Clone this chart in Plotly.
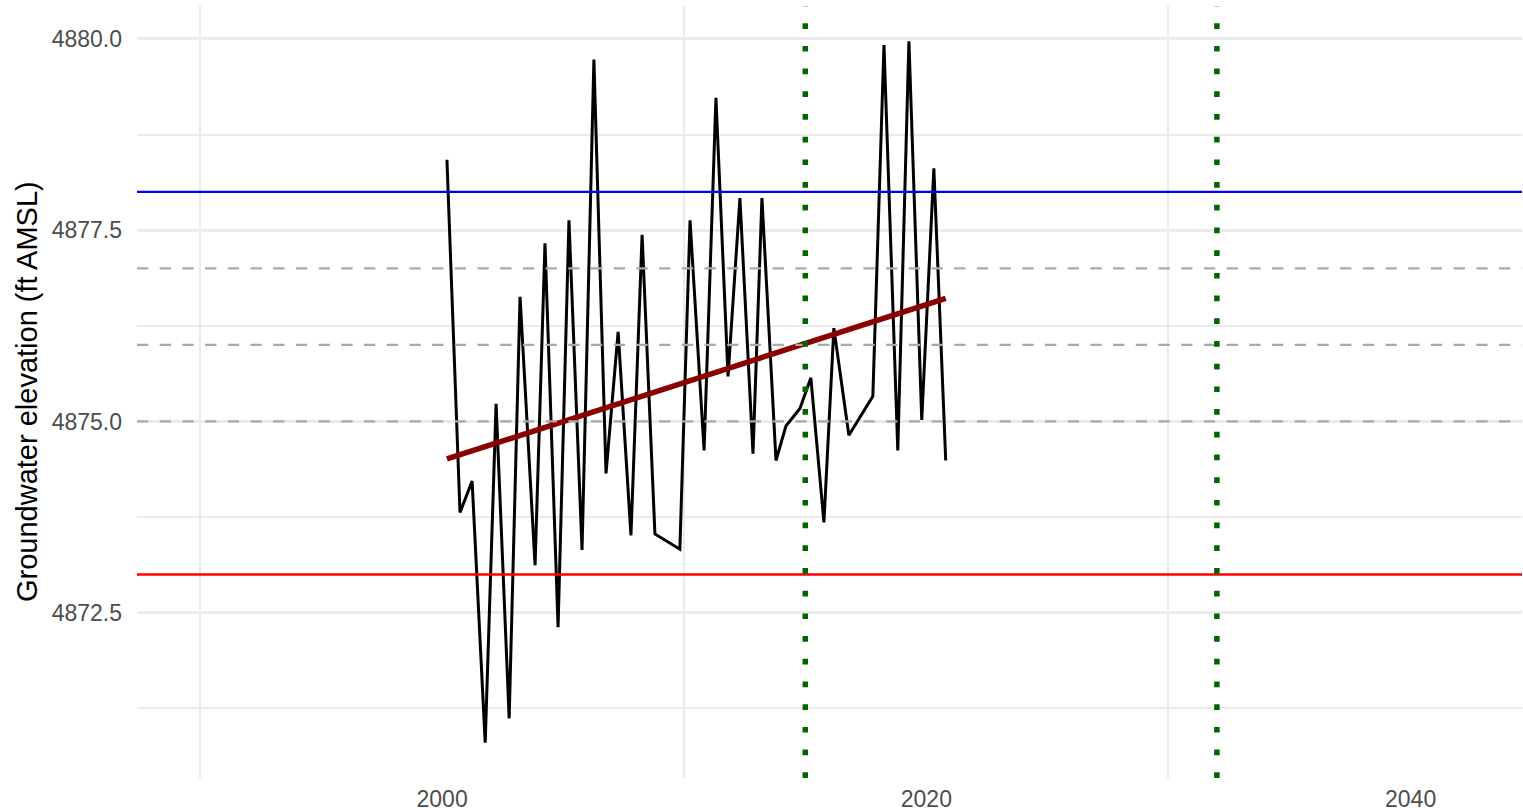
import plotly.graph_objects as go

# Observations (decimal year, groundwater elevation ft AMSL)
obs_year = [2000.2, 2000.74, 2001.24, 2001.78, 2002.23, 2002.77, 2003.22, 2003.84,
            2004.25, 2004.79, 2005.24, 2005.78, 2006.27, 2006.77, 2007.27, 2007.8,
            2008.26, 2008.79, 2009.82, 2010.24, 2010.82, 2011.31, 2011.81, 2012.3,
            2012.84, 2013.21, 2013.79, 2014.2, 2014.78, 2015.23, 2015.77, 2016.18,
            2016.8, 2017.79, 2018.25, 2018.82, 2019.28, 2019.81, 2020.31, 2020.8]
obs_elev = [4878.42, 4873.81, 4874.22, 4870.8, 4875.23, 4871.12, 4876.63, 4873.12,
            4877.33, 4872.31, 4877.63, 4873.32, 4879.73, 4874.32, 4876.17, 4873.51,
            4877.44, 4873.53, 4873.33, 4877.63, 4874.62, 4879.23, 4875.59, 4877.92,
            4874.58, 4877.92, 4874.49, 4874.94, 4875.17, 4875.57, 4873.68, 4876.22,
            4874.82, 4875.33, 4879.92, 4874.62, 4879.97, 4875.02, 4878.31, 4874.49]

# Linear trend endpoints
trend_year = [2000.2, 2020.8]
trend_elev = [4874.51, 4876.61]

# Reference levels
upper_level = 4878.0
lower_level = 4873.0
gray_levels = [4877.0, 4876.0, 4875.0]
milestone_years = [2015, 2032]

x_ticks = [2000, 2020, 2040]
x_minor = [1990, 2010, 2030]
y_ticks = [4872.5, 4875.0, 4877.5, 4880.0]
y_tick_text = ["4872.5", "4875.0", "4877.5", "4880.0"]
y_minor = [4871.25, 4873.75, 4876.25, 4878.75]
x_range = [1987.4, 2044.6]
y_range = [4870.34, 4880.43]

fig = go.Figure()

shapes = []
for lv in gray_levels:
    shapes.append(dict(type="line", xref="paper", yref="y", x0=0, x1=1, y0=lv, y1=lv,
                       line=dict(color="#A9A9A9", width=2.3, dash="11.3px,11.4px"), layer="above"))
shapes.append(dict(type="line", xref="paper", yref="y", x0=0, x1=1, y0=upper_level, y1=upper_level,
                   line=dict(color="#0000FF", width=2.4), layer="above"))
shapes.append(dict(type="line", xref="paper", yref="y", x0=0, x1=1, y0=lower_level, y1=lower_level,
                   line=dict(color="#FF0000", width=2.4), layer="above"))
for yr in milestone_years:
    shapes.append(dict(type="line", xref="x", yref="paper", x0=yr, x1=yr, y0=0, y1=1,
                       line=dict(color="#006400", width=5.5, dash="5.7px,17px"), layer="above"))

fig.add_trace(go.Scatter(x=obs_year, y=obs_elev, mode="lines",
                         line=dict(color="black", width=3), showlegend=False, hoverinfo="skip"))
fig.add_trace(go.Scatter(x=trend_year, y=trend_elev, mode="lines",
                         line=dict(color="#8B0000", width=5.5), showlegend=False, hoverinfo="skip"))

fig.update_layout(
    width=1523, height=812,
    margin=dict(l=137, r=1, t=6, b=34, autoexpand=False),
    plot_bgcolor="white", paper_bgcolor="white",
    font=dict(family="Liberation Sans, Arial, sans-serif"),
    shapes=shapes,
    xaxis=dict(range=x_range, tickvals=x_ticks, ticktext=[str(v) for v in x_ticks],
               showgrid=False, zeroline=False, showline=False, ticks="",
               tickfont=dict(size=23, color="#4D4D4D"), ticklabelstandoff=5,
               minor=dict(tickvals=x_minor, showgrid=True, gridcolor="#EBEBEB", gridwidth=1.6, ticks="")),
    yaxis=dict(range=y_range, tickvals=y_ticks, ticktext=y_tick_text,
               showgrid=True, gridcolor="#EBEBEB", gridwidth=2.7, zeroline=False, showline=False, ticks="",
               tickfont=dict(size=23, color="#4D4D4D"), ticklabelstandoff=14,
               minor=dict(tickvals=y_minor, showgrid=True, gridcolor="#EBEBEB", gridwidth=1.6, ticks="")),
    annotations=[dict(text="Groundwater elevation (ft AMSL)", xref="paper", yref="paper",
                      x=(27 - 137) / 1385, y=0.5, xanchor="center", yanchor="middle",
                      textangle=-90, showarrow=False, font=dict(size=29, color="black"))],
)

fig.write_html("out.html", config={"displayModeBar": False},
               post_script="document.body.style.margin='0px';document.body.style.overflow='hidden';")
